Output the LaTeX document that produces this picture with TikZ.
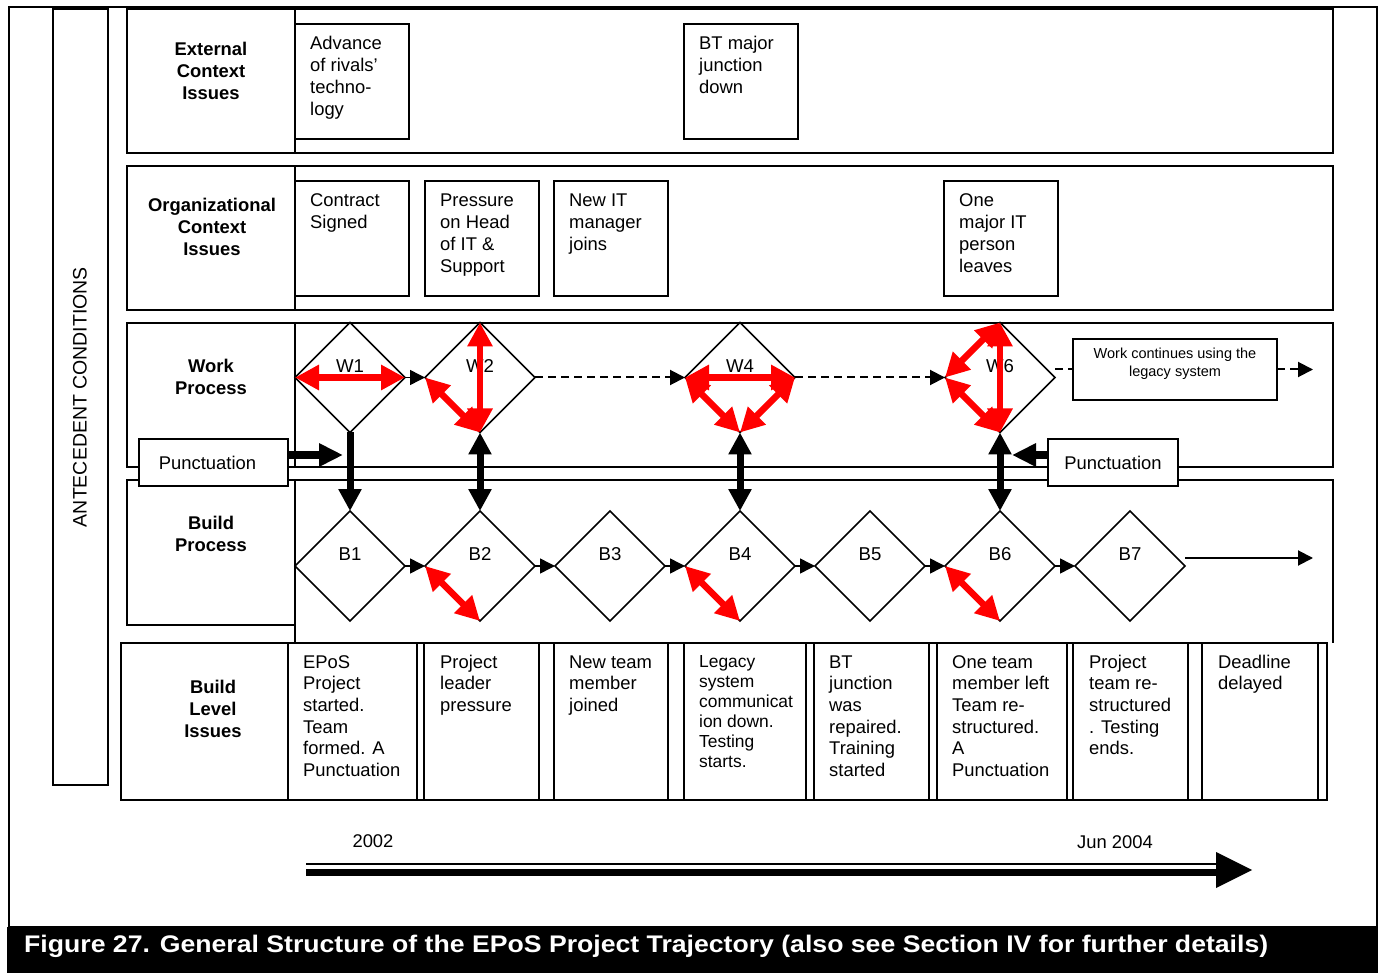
\documentclass[tikz,border=0pt]{standalone}
\usepackage{fontspec}
\setmainfont{Liberation Sans}
\usepackage{graphicx}
\usetikzlibrary{shapes.geometric,arrows.meta}
\newcommand\myfs[2]{\fontsize{#1pt}{#2pt}\selectfont}
\begin{document}
\begin{tikzpicture}[x=1pt,y=-1pt,
  frame/.style={draw,line width=2pt},
  ibox/.style={draw,line width=2pt,rectangle,inner sep=0,outer sep=0,anchor=north west},
  dia/.style={diamond,draw,line width=1.5pt,minimum width=110pt,minimum height=110pt,inner sep=0,outer sep=0},
  txt/.style={font=\myfs{18.4}{21.7},inner sep=0,align=left,anchor=base west},
  lbl/.style={font=\bfseries\myfs{18.4}{22},inner sep=0,align=center,anchor=base},
  dlbl/.style={font=\myfs{18.6}{22},inner sep=0},
  redarr/.style={draw=red,line width=6.5pt,{Triangle[length=24pt,width=24pt]}-{Triangle[length=24pt,width=24pt]}},
  blkone/.style={draw=black,line width=7pt,-{Triangle[length=22pt,width=22pt]}},
  blktwo/.style={draw=black,line width=7pt,{Triangle[length=22pt,width=22pt]}-{Triangle[length=22pt,width=22pt]}},
  small/.style={draw=black,line width=1.5pt,-{Triangle[length=15pt,width=15pt]}},
  dashline/.style={draw=black,line width=2pt,dash pattern=on 8pt off 5pt},
  pbox/.style={draw,line width=2pt,fill=white,rectangle,inner sep=0,outer sep=0,font=\myfs{18.4}{22}}
]
\useasboundingbox (0,0) rectangle (1382,973);
% outer frame and caption bar
\draw[line width=2pt] (8.5,7) rectangle (1377,927);
\fill[black] (7,927) rectangle (1378,973);
\node[anchor=base west,inner sep=0,text=white,font=\bfseries\myfs{24}{28}] (cap) at (24,952)
  {\resizebox{1244pt}{\height}{Figure 27. General Structure of the EPoS Project Trajectory (also see Section IV for further details)}};

% antecedent conditions
\draw[frame] (53,9) rectangle (108,785);
\node[rotate=90,inner sep=0,font=\myfs{19.5}{22}] (ante) at (80,397) {ANTECEDENT CONDITIONS};

% rows
\draw[frame] (127,9) rectangle (1333,153);
\draw[frame] (295,9) -- (295,153);
\draw[frame] (127,166) rectangle (1333,310);
\draw[frame] (295,166) -- (295,310);
\draw[frame] (127,323) rectangle (1333,467);
\draw[frame] (295,323) -- (295,467);
\draw[frame] (127,480) rectangle (295,625);
\draw[frame] (295,480) -- (1333,480) -- (1333,643);
\draw[frame] (295,480) -- (295,643);
\draw[frame] (121,643) rectangle (1327,800);
\draw[frame] (288,643) -- (288,800);
\foreach \a/\b in {288/417,424/539,554/668,684/806,814/929,937/1067,1073/1188,1202/1318}
  \draw[frame] (\a,643) rectangle (\b,800);

% row labels (anchor = baseline of last line)
\node[lbl] (lext) at (211,100) {External\\Context\\Issues};
\node[lbl] (lorg) at (212,256) {Organizational\\Context\\Issues};
\node[lbl] (lwork) at (211,394.5) {Work\\Process};
\node[lbl] (lbuild) at (211,551.5) {Build\\Process};
\node[lbl] (lbli) at (213,737.5) {Build\\Level\\Issues};

% external issues
\node[ibox,minimum width=114pt,minimum height=115pt] (adv) at (295,24) {};
\node[txt] (advt) at (310,115.1) {Advance\\of rivals'\\techno-\\logy};
\node[ibox,minimum width=114pt,minimum height=115pt] (bt) at (684,24) {};
\node[txt] (btt) at (699,93.4) {BT major\\junction\\down};

% organizational issues
\node[ibox,minimum width=114pt,minimum height=115pt] (con) at (295,181) {};
\node[txt] (cont) at (310,228.7) {Contract\\Signed};
\node[ibox,minimum width=114pt,minimum height=115pt] (pre) at (425,181) {};
\node[txt] (pret) at (440,272.1) {Pressure\\on Head\\of IT \&\\Support};
\node[ibox,minimum width=114pt,minimum height=115pt] (nit) at (554,181) {};
\node[txt] (nitt) at (569,250.4) {New IT\\manager\\joins};
\node[ibox,minimum width=114pt,minimum height=115pt] (one) at (944,181) {};
\node[txt] (onet) at (959,272.1) {One\\major IT\\person\\leaves};

% work process diamonds
\foreach \n/\x in {W1/350,W2/480,W4/740,W6/1000}{
  \node[dia] (\n) at (\x,377.5) {};
  \node[dlbl] (\n t) at (\x,366) {\n};
}
% build process diamonds
\foreach \n/\x in {B1/350,B2/480,B3/610,B4/740,B5/870,B6/1000,B7/1130}{
  \node[dia] (\n) at (\x,566) {};
  \node[dlbl] (\n t) at (\x,554) {\n};
}

% work continues box
\node[draw,line width=2pt,rectangle,minimum width=204pt,minimum height=61pt,inner sep=0,outer sep=0] (wc) at (1175,369.5) {};
\node[font=\myfs{14.5}{18},inner sep=0,align=center,anchor=base] (wct) at (1175,377) {Work continues using the\\legacy system};
\coordinate (wend) at (1313,369.5);
\coordinate (bend) at (1313,558);
\coordinate (b7s) at (1185,558);

% connectors in work row
\draw[small] (W1.east) -- (W2.west);
\draw[dashline,-{Triangle[length=15pt,width=15pt]}] (W2.east) -- (W4.west);
\draw[dashline,-{Triangle[length=15pt,width=15pt]}] (W4.east) -- (W6.west);
\draw[dashline] ([yshift=8pt]W6.east) -- (wc.west);
\draw[dashline,-{Triangle[length=15pt,width=15pt]}] (wc.east) -- (wend);

% connectors in build row
\draw[small] (B1.east) -- (B2.west);
\draw[small] (B2.east) -- (B3.west);
\draw[small] (B3.east) -- (B4.west);
\draw[small] (B4.east) -- (B5.west);
\draw[small] (B5.east) -- (B6.west);
\draw[small] (B6.east) -- (B7.west);
\draw[small,line width=2pt] (b7s) -- (bend);

% vertical black arrows
\draw[blkone] (W1.south) -- (B1.north);
\draw[blktwo] (W2.south) -- (B2.north);
\draw[blktwo] (W4.south) -- (B4.north);
\draw[blktwo] (W6.south) -- (B6.north);

% punctuation boxes
\node[pbox,minimum width=149pt,minimum height=47pt] (p1) at (213.5,462.5) {\hspace*{-12pt}Punctuation};
\node[pbox,minimum width=130pt,minimum height=47pt] (p2) at (1113,462.5) {Punctuation};
\coordinate (p1e) at (343,455);
\coordinate (p2e) at (1012,455);
\draw[draw=black,line width=8pt,-{Triangle[length=24pt,width=22pt]}] ([yshift=7.5pt]p1.east) -- (p1e);
\draw[draw=black,line width=8pt,-{Triangle[length=24pt,width=22pt]}] ([yshift=7.5pt]p2.west) -- (p2e);

% red arrows
\draw[redarr] (W1.west) -- (W1.east);
\draw[redarr] (W2.north) -- (W2.south);
\draw[redarr] (W2.west) -- (W2.south);
\draw[redarr] (W4.west) -- (W4.east);
\draw[redarr] (W4.west) -- (W4.south);
\draw[redarr] (W4.east) -- (W4.south);
\draw[redarr] (W6.north) -- (W6.south);
\draw[redarr] (W6.west) -- (W6.north);
\draw[redarr] (W6.west) -- (W6.south);
\draw[redarr] (B2.west) -- (B2.south);
\draw[redarr] (B4.west) -- (B4.south);
\draw[redarr] (B6.west) -- (B6.south);

% build level issues texts (anchor = baseline of last line)
\node[txt] (c1) at (303,776.5) {EPoS\\Project\\started.\\Team\\formed. A\\Punctuation};
\node[txt] (c2) at (440,711.4) {Project\\leader\\pressure};
\node[txt] (c3) at (569,711.4) {New team\\member\\joined};
\node[txt,font=\myfs{17.4}{20}] (c4) at (699,767) {Legacy\\system\\communicat\\ion down.\\Testing\\starts.};
\node[txt] (c5) at (829,776.5) {BT\\junction\\was\\repaired.\\Training\\started};
\node[txt] (c6) at (952,776.5) {One team\\member left\\Team re-\\structured.\\A\\Punctuation};
\node[txt] (c7) at (1089,754.8) {Project\\team re-\\structured\\. Testing\\ends.};
\node[txt] (c8) at (1218,689.7) {Deadline\\delayed};

% timeline
\node[font=\myfs{18.4}{22},inner sep=0] (y1) at (373,841) {2002};
\node[font=\myfs{18.4}{22},inner sep=0] (y2) at (1115,842) {Jun 2004};
\coordinate (ts) at (306,864);
\coordinate (te) at (1222,864);
\draw[line width=2pt] (ts) -- (te);
\draw[line width=7pt] (306,872.5) -- (1222,872.5);
\fill[black] (1216,852) -- (1252,870) -- (1216,888) -- cycle;
\end{tikzpicture}
\end{document}
